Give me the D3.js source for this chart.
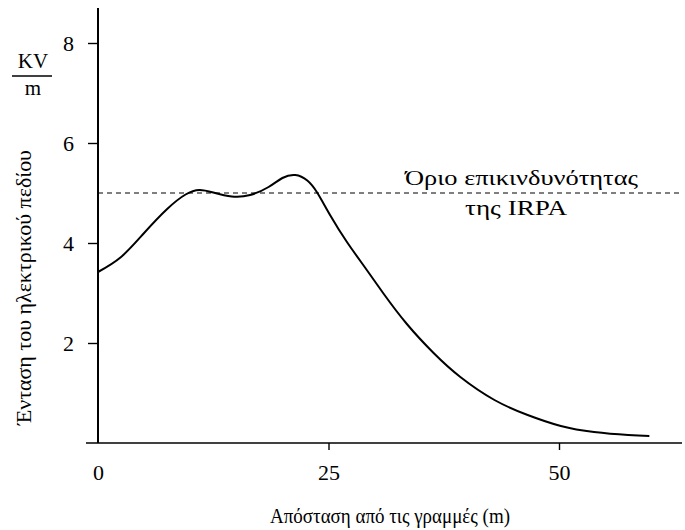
<!DOCTYPE html>
<html>
<head>
<meta charset="utf-8">
<script src="https://cdn.jsdelivr.net/npm/d3@7"></script>
<style>
  body { margin: 0; background: #fff; }
  text { font-family: "Liberation Serif", "Times New Roman", serif; fill: #000; }
</style>
</head>
<body>
<svg id="chart" width="685" height="530"></svg>
<script>
  // distance from the lines (m) and field strength (kV/m)
  const distance = [0, 2.5, 5, 7.5, 9.5, 11, 12.5, 14.5, 16.5, 18.5, 20, 21.4, 22.7, 23.8, 25.2, 27, 29, 31, 33.5, 36.4, 39.3, 43, 46.6, 50.2, 53.8, 57.5, 59.8];
  const field = [3.42, 3.72, 4.2, 4.68, 4.97, 5.06, 5.01, 4.93, 4.96, 5.12, 5.3, 5.36, 5.25, 5.0, 4.55, 4.02, 3.5, 2.98, 2.38, 1.8, 1.32, 0.86, 0.56, 0.34, 0.22, 0.16, 0.14];
  const xTicks = [0, 25, 50];
  const yTicks = [2, 4, 6, 8];
  const limit = 5;

  const svg = d3.select("#chart");

  const x = d3.scaleLinear().domain([0, 50]).range([98, 559]);
  const y = d3.scaleLinear().domain([0, 8]).range([443, 43]);

  // axis lines
  svg.append("line")
    .attr("x1", 86).attr("x2", 682)
    .attr("y1", y(0)).attr("y2", y(0))
    .attr("stroke", "#000").attr("stroke-width", 1.6);
  svg.append("line")
    .attr("x1", x(0)).attr("x2", x(0))
    .attr("y1", 8).attr("y2", y(0))
    .attr("stroke", "#000").attr("stroke-width", 2);

  const yAxis = svg.append("g")
    .attr("transform", `translate(${x(0)},0)`)
    .call(d3.axisLeft(y).tickValues(yTicks).tickSize(10).tickPadding(14));
  yAxis.select(".domain").remove();
  yAxis.selectAll("line").attr("stroke-width", 1.4);
  yAxis.selectAll("text").attr("font-size", 22);

  const xAxis = svg.append("g")
    .attr("transform", `translate(0,${y(0)})`)
    .call(d3.axisBottom(x).tickValues(xTicks).tickSize(7).tickPadding(14));
  xAxis.select(".domain").remove();
  xAxis.selectAll("line").attr("stroke-width", 1.4).filter(d => d === 0).remove();
  xAxis.selectAll("text").attr("font-size", 22);

  // IRPA limit
  svg.append("line")
    .attr("x1", x(0)).attr("x2", 682)
    .attr("y1", y(limit)).attr("y2", y(limit))
    .attr("stroke", "#000").attr("stroke-width", 1.1)
    .attr("stroke-dasharray", "5,4");

  svg.append("text")
    .attr("x", 405).attr("y", 185)
    .attr("font-size", 20)
    .attr("textLength", 233).attr("lengthAdjust", "spacingAndGlyphs")
    .text("Όριο επικινδυνότητας");
  svg.append("text")
    .attr("x", 465).attr("y", 215)
    .attr("font-size", 20)
    .attr("textLength", 102).attr("lengthAdjust", "spacingAndGlyphs")
    .text("της IRPA");

  // curve
  const line = d3.line()
    .x((d, i) => x(distance[i]))
    .y(d => y(d))
    .curve(d3.curveNatural);

  svg.append("path")
    .datum(field)
    .attr("fill", "none")
    .attr("stroke", "#000")
    .attr("stroke-width", 2)
    .attr("d", line);

  // unit label
  svg.append("text")
    .attr("x", 33).attr("y", 68)
    .attr("text-anchor", "middle").attr("font-size", 21)
    .text("KV");
  svg.append("line")
    .attr("x1", 12).attr("x2", 52)
    .attr("y1", 76).attr("y2", 76)
    .attr("stroke", "#000").attr("stroke-width", 1.4);
  svg.append("text")
    .attr("x", 33).attr("y", 95)
    .attr("text-anchor", "middle").attr("font-size", 21)
    .text("m");

  // axis titles
  svg.append("text")
    .attr("transform", "translate(31,425) rotate(-90)")
    .attr("font-size", 20)
    .attr("textLength", 275).attr("lengthAdjust", "spacingAndGlyphs")
    .text("Ένταση του ηλεκτρικού πεδίου");

  svg.append("text")
    .attr("x", 270).attr("y", 523)
    .attr("font-size", 21)
    .attr("textLength", 240).attr("lengthAdjust", "spacingAndGlyphs")
    .text("Απόσταση από τις γραμμές (m)");
</script>
</body>
</html>
